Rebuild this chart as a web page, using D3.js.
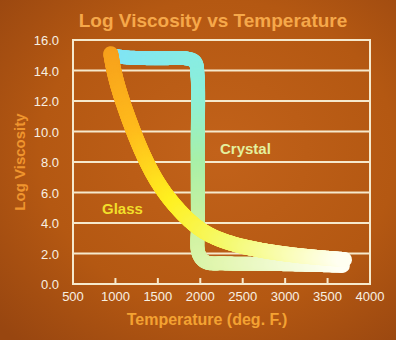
<!DOCTYPE html>
<html><head><meta charset="utf-8">
<script src="https://cdn.jsdelivr.net/npm/d3@7"></script>
<style>html,body{margin:0;padding:0;background:#b55812;}svg{display:block;}</style>
</head><body>
<script>
const xTicks = [500,1000,1500,2000,2500,3000,3500,4000];
const yTicks = [0,2,4,6,8,10,12,14,16];
const glassTemp = [945, 960, 1000, 1080, 1210, 1360, 1560, 1880, 2150, 2550, 3000, 3350, 3700];
const glassVisc = [15.1, 14.6, 13.5, 12.0, 10.0, 8.0, 6.0, 4.0, 3.0, 2.35, 1.95, 1.75, 1.6];
const crystalTemp = [1000, 1150, 1500, 1850, 1940, 1968, 1970, 1973, 1980, 2060, 2300, 3000, 3680];
const crystalVisc = [14.95, 14.85, 14.8, 14.78, 14.55, 13.6, 9.0, 4.0, 2.0, 1.45, 1.35, 1.3, 1.2];
const glassColors = ["#f7a01c","#ffbc1c","#fff020","#f4fa70","#fffff2"];
const glassStops = [0, 0.25, 0.47, 0.68, 1];
const crystalColors = ["#7fe4f6","#8cf0da","#a8f0a8","#cdf2a0","#e2f6b0","#fffff4"];
const crystalStops = [0, 0.28, 0.44, 0.6, 0.72, 1];

const W = 396, H = 340;
const svg = d3.select("body").append("svg").attr("width", W).attr("height", H);
const defs = svg.append("defs");
const bg = defs.append("radialGradient").attr("id","bg").attr("cx","55%").attr("cy","45%").attr("r","75%");
bg.append("stop").attr("offset","0%").attr("stop-color","#c2621a");
bg.append("stop").attr("offset","60%").attr("stop-color","#b45812");
bg.append("stop").attr("offset","100%").attr("stop-color","#984610");
svg.append("rect").attr("width",W).attr("height",H).attr("fill","url(#bg)");

const x = d3.scaleLinear().domain([500,4000]).range([73,370]);
const y = d3.scaleLinear().domain([0,16]).range([284,40]);
const cream = "#f6e9cc";

svg.append("g").selectAll("line").data(yTicks.filter(d=>d>0 && d<16)).join("line")
  .attr("x1", x(500)).attr("x2", x(4000)).attr("y1", d=>y(d)).attr("y2", d=>y(d))
  .attr("stroke", cream).attr("stroke-width", 2);
svg.append("rect").attr("x", x(500)).attr("y", y(16)).attr("width", x(4000)-x(500)).attr("height", y(0)-y(16))
  .attr("fill","none").attr("stroke", cream).attr("stroke-width", 2);
svg.append("g").selectAll("line").data(xTicks.slice(1,-1)).join("line")
  .attr("x1", d=>x(d)).attr("x2", d=>x(d)).attr("y1", y(0)).attr("y2", y(0)-6)
  .attr("stroke", cream).attr("stroke-width", 2);

svg.append("g").selectAll("text").data(yTicks).join("text")
  .attr("x", 59).attr("y", d=>y(d)+5).attr("text-anchor","end")
  .attr("font-family","Liberation Sans, Arial, sans-serif").attr("font-size",13)
  .attr("fill","#f8f0e2").text(d=>d.toFixed(1));
svg.append("g").selectAll("text").data(xTicks).join("text")
  .attr("x", d=>x(d)).attr("y", 301).attr("text-anchor","middle")
  .attr("font-family","Liberation Sans, Arial, sans-serif").attr("font-size",13)
  .attr("fill","#f8f0e2").text(d=>d);

function drawGradientPath(pts, colors, stops, width, curve){
  const line = d3.line().x(d=>x(d[0])).y(d=>y(d[1])).curve(curve);
  const scale = d3.scaleLinear().domain(stops).range(colors).interpolate(d3.interpolateRgb);
  const tmp = svg.append("path").attr("d", line(pts)).attr("fill","none").attr("stroke","none");
  const node = tmp.node();
  const L = node.getTotalLength();
  const n = Math.ceil(L);
  const g = svg.append("g");
  let prev = node.getPointAtLength(0);
  for(let i=1;i<=n;i++){
    const p = node.getPointAtLength(L*i/n);
    g.append("line").attr("x1",prev.x).attr("y1",prev.y).attr("x2",p.x).attr("y2",p.y)
      .attr("stroke", scale((i-0.5)/n)).attr("stroke-width", width).attr("stroke-linecap","round");
    prev = p;
  }
  tmp.remove();
}
drawGradientPath(crystalTemp.map((t,i)=>[t,crystalVisc[i]]), crystalColors, crystalStops, 14, d3.curveCatmullRom.alpha(0.5));
drawGradientPath(glassTemp.map((t,i)=>[t,glassVisc[i]]), glassColors, glassStops, 15, d3.curveBasis);

svg.append("text").attr("x",102).attr("y",214).attr("font-family","Liberation Sans, Arial, sans-serif")
  .attr("font-weight","bold").attr("font-size",15).attr("fill","#f2df2a").text("Glass");
svg.append("text").attr("x",220).attr("y",154).attr("font-family","Liberation Sans, Arial, sans-serif")
  .attr("font-weight","bold").attr("font-size",15).attr("fill","#e4f09e").text("Crystal");

svg.append("text").attr("x",213).attr("y",27).attr("text-anchor","middle")
  .attr("font-family","Liberation Sans, Arial, sans-serif").attr("font-weight","bold").attr("font-size",19)
  .attr("fill","#f6a84a").text("Log Viscosity vs Temperature");
svg.append("text").attr("transform","translate(25,162) rotate(-90)").attr("text-anchor","middle")
  .attr("font-family","Liberation Sans, Arial, sans-serif").attr("font-weight","bold").attr("font-size",15)
  .attr("fill","#f0952e").text("Log Viscosity");
svg.append("text").attr("x",207).attr("y",325).attr("text-anchor","middle")
  .attr("font-family","Liberation Sans, Arial, sans-serif").attr("font-weight","bold").attr("font-size",16)
  .attr("fill","#f4a232").text("Temperature (deg. F.)");
</script>
</body></html>
